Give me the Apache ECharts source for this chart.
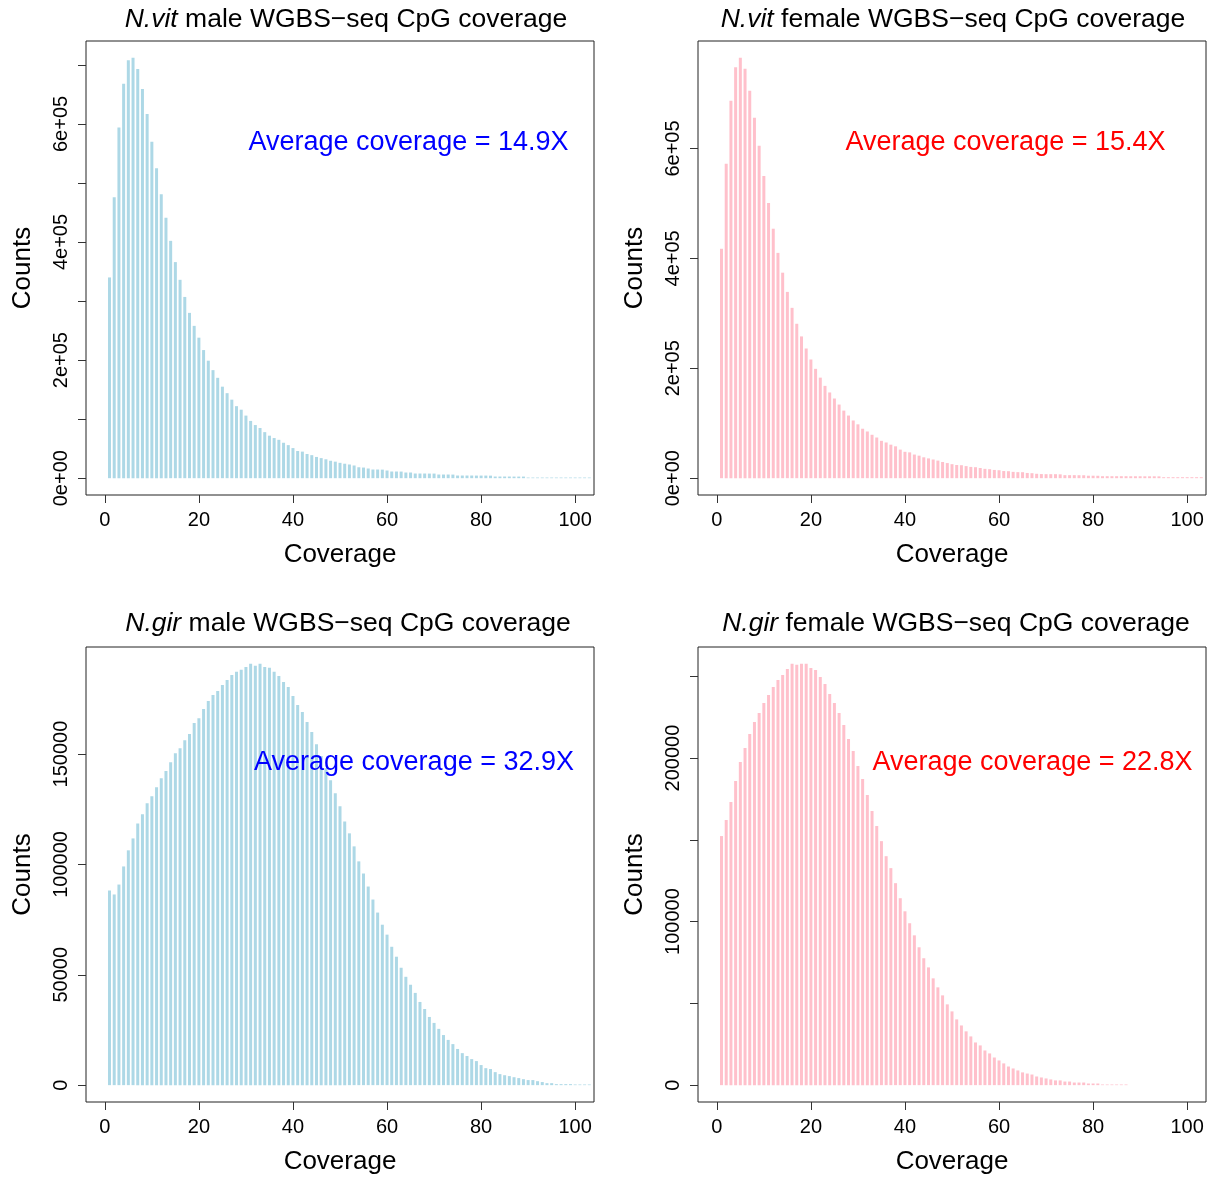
<!DOCTYPE html>
<html><head><meta charset="utf-8">
<script src="https://cdn.jsdelivr.net/npm/echarts@6/dist/echarts.min.js"></script>
<style>html,body{margin:0;padding:0;background:#fff}#c{width:1217px;height:1179px}</style>
</head><body><div id="c"></div>
<script>
// Counts per coverage value (coverage = 1, 2, 3, ...)
const nvitMale = [340000,476000,594000,668000,708000,712000,693000,659000,617000,570000,
525000,481000,441000,402000,366000,336000,307000,280000,258000,238000,
217000,199000,183000,170000,155000,144000,133000,122000,116000,106000,
97000,90000,85000,78000,72000,68000,65000,60000,56000,51000,
46000,45000,41000,39000,36000,34000,32000,29500,28000,26000,
24500,23200,21500,18500,18000,16400,14700,14700,14500,13000,
11300,11300,11200,9600,9600,7900,7900,7900,7800,7800,
6200,6200,6200,6100,4500,4500,4500,4500,4400,4400,
4400,4300,2800,2800,2800,2800,2700,2700,2700,1100,
1100,1100,1100,1100,1100,1100,1100,1100,1100,1100,
1100,1100,1100];
const nvitFemale = [417500,572000,687000,748000,765000,745000,705000,656000,605000,550000,
501000,454000,410000,374000,339000,310000,281000,258000,236000,216000,
199000,183000,168000,156000,145000,134000,123000,114000,105000,98000,
90000,85000,79000,74000,68000,65000,61000,58000,52000,48000,
47000,43000,41000,38000,36000,34000,32000,29500,27500,25500,
24000,23600,22000,20500,20000,18500,17000,16400,15000,14500,
13000,12700,11500,11000,10900,9500,9100,8000,7500,7300,
7300,7300,7000,5500,5500,5500,5400,5300,4500,4500,
4400,3600,3600,3600,3600,3600,3600,3500,3500,3500,
3400,3400,3400,3300,1800,1800,1800,1800,1800,1800,
1800,1800,1800];
const ngirMale = [88200,86400,90900,99100,106400,111800,118600,122700,127700,130900,
135000,139100,142300,146300,150400,152700,156300,159100,164100,166300,
170400,174100,176800,178600,181300,183600,185900,187300,188200,189500,
190900,190000,190900,189500,189100,187300,185400,182700,180400,176300,
172300,169100,164500,160000,154500,149100,143600,138200,132300,126400,
119500,114100,108200,101400,95900,90000,84100,78200,72700,68200,
62700,58200,53200,49100,45500,41800,37700,34500,30900,28200,
25500,22700,20500,18600,16400,14500,13200,11800,10900,9100,
7700,7300,5900,5000,4500,4100,3600,3200,2700,2300,
2300,1800,1400,900,900,450,450,450,450,300,
300,300,300];
const ngirFemale = [152300,162100,173100,185900,197600,206100,214700,222100,227600,233700,
238600,243500,247800,250800,254500,257600,257000,257600,257600,255100,
253900,249600,245300,239200,233700,227600,220200,211700,204300,195100,
187200,177400,167600,158400,149200,140000,132700,123500,114300,106300,
99000,91600,84300,77600,72000,65300,59800,54900,49400,45100,
40200,36500,32900,29800,26100,24300,21200,19400,16900,15100,
13300,11400,10200,9000,7800,7100,6500,5300,4700,4100,
3500,2900,2900,2200,2200,1600,1600,1600,1000,1000,
1000,400,400,400,400,400,400];

const xTicks = [0,20,40,60,80,100];
const yTicksNvitMale = [0,100000,200000,300000,400000,500000,600000,700000];
const yLabelValsNvitMale = [0,200000,400000,600000];
const yLabelTxtNvitMale = ['0e+00','2e+05','4e+05','6e+05'];
const yTicksNvitFemale = [0,200000,400000,600000];
const yLabelValsNvitFemale = [0,200000,400000,600000];
const yLabelTxtNvitFemale = ['0e+00','2e+05','4e+05','6e+05'];
const yTicksNgirMale = [0,50000,100000,150000];
const yLabelValsNgirMale = [0,50000,100000,150000];
const yLabelTxtNgirMale = ['0','50000','100000','150000'];
const yTicksNgirFemale = [0,50000,100000,150000,200000,250000];
const yLabelValsNgirFemale = [0,100000,200000];
const yLabelTxtNgirFemale = ['0','100000','200000'];

const speciesNames = ['N.vit','N.vit','N.gir','N.gir'];
const sexNames = ['male','female','male','female'];
const avgCoverage = ['14.9','15.4','32.9','22.8'];

const FONT = '"Liberation Sans", Arial, Helvetica, sans-serif';
const panels = [
  {data:nvitMale, yt:yTicksNvitMale, lv:yLabelValsNvitMale, lt:yLabelTxtNvitMale, color:'#ADD8E6', txt:'#0000FF', left:86, top:41, h:454, titleX:346, titleY:19.5, annX:408.5, annY:142.5},
  {data:nvitFemale, yt:yTicksNvitFemale, lv:yLabelValsNvitFemale, lt:yLabelTxtNvitFemale, color:'#FFC0CB', txt:'#FF0000', left:698, top:41, h:454, titleX:953, titleY:19.5, annX:1005.5, annY:142.5},
  {data:ngirMale, yt:yTicksNgirMale, lv:yLabelValsNgirMale, lt:yLabelTxtNgirMale, color:'#ADD8E6', txt:'#0000FF', left:86, top:647, h:455, titleX:348, titleY:623.5, annX:414, annY:762.5},
  {data:ngirFemale, yt:yTicksNgirFemale, lv:yLabelValsNgirFemale, lt:yLabelTxtNgirFemale, color:'#FFC0CB', txt:'#FF0000', left:698, top:647, h:455, titleX:956, titleY:623.5, annX:1032.5, annY:762.5}
];

const grids=[], xAxes=[], yAxes=[], series=[], graphics=[];
panels.forEach((p,i)=>{
  const mx = Math.max(...p.data);
  grids.push({left:p.left, top:p.top, width:508, height:p.h, show:true, borderColor:'#222', borderWidth:1, backgroundColor:'transparent', containLabel:false});
  xAxes.push({type:'value', gridIndex:i, min:-4, max:104, position:'bottom',
    axisLine:{show:false, onZero:false}, splitLine:{show:false},
    axisTick:{show:true, inside:false, length:8, customValues:xTicks, lineStyle:{color:'#333', width:1}},
    axisLabel:{show:true, customValues:xTicks, fontSize:20, color:'#000', fontFamily:FONT, margin:15},
    name:'Coverage', nameLocation:'middle', nameGap:47, nameTextStyle:{fontSize:26, color:'#000', fontFamily:FONT}});
  yAxes.push({type:'value', gridIndex:i, min:-0.04*mx, max:1.04*mx, position:'left',
    axisLine:{show:false, onZero:false}, splitLine:{show:false},
    axisTick:{show:true, inside:false, length:8, customValues:p.yt, lineStyle:{color:'#333', width:1}},
    axisLabel:{show:true, customValues:p.lv, rotate:90, fontSize:20, color:'#000', fontFamily:FONT, margin:15,
      formatter:(v)=>{const k=p.lv.indexOf(v); return k>=0?p.lt[k]:'';}},
    name:'Counts', nameLocation:'middle', nameGap:50, nameRotate:90, nameTextStyle:{fontSize:26, color:'#000', fontFamily:FONT}});
  series.push({type:'bar', xAxisIndex:i, yAxisIndex:i, barWidth:3, itemStyle:{color:p.color},
    data:p.data.map((v,k)=>[k+1,v]), animation:false});
  graphics.push({type:'text', z:100, x:p.titleX, y:p.titleY, style:{
    text:'{i|'+speciesNames[i]+'} '+sexNames[i]+' WGBS\u2212seq CpG coverage',
    font:'26.5px '+FONT, fill:'#000', align:'center', verticalAlign:'middle',
    rich:{i:{fontStyle:'italic', fontSize:26.5, fontFamily:FONT, fill:'#000'}}}});
  graphics.push({type:'text', z:100, x:p.annX, y:p.annY, style:{
    text:'Average coverage = '+avgCoverage[i]+'X', font:'27px '+FONT, fill:p.txt, align:'center', verticalAlign:'middle'}});
});

const chart = echarts.init(document.getElementById('c'), null, {renderer:'canvas'});
chart.setOption({animation:false, backgroundColor:'#fff', grid:grids, xAxis:xAxes, yAxis:yAxes, series:series, graphic:graphics});
</script></body></html>
